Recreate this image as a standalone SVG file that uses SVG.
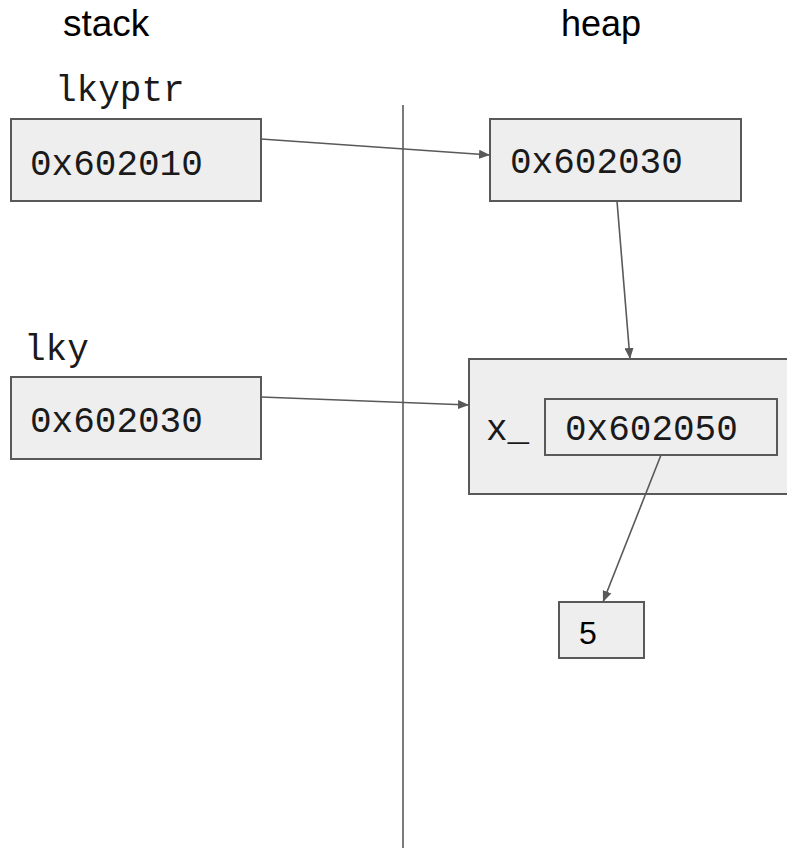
<svg xmlns="http://www.w3.org/2000/svg" width="787" height="848" viewBox="0 0 787 848">
<defs>
<style>
.box{fill:#eeeeee;stroke:#595959;stroke-width:2}
.mono{font-family:"Liberation Mono","Courier New",monospace;font-size:36px;fill:#1a1a1a}
.sans{font-family:"Liberation Sans",Arial,sans-serif;font-size:36px;fill:#000}
.conn{stroke:#595959;stroke-width:1.6;fill:none;marker-end:url(#arr)}
</style>
<marker id="arr" markerWidth="11" markerHeight="9" refX="11" refY="4.5" orient="auto" markerUnits="userSpaceOnUse">
<path d="M0,0 L11,4.5 L0,9 z" fill="#595959"/>
</marker>
</defs>
<rect width="787" height="848" fill="#fff"/>
<g id="headers">
<text class="sans" x="63" y="36" style="font-size:37px">stack</text>
<text class="sans" x="561" y="36">heap</text>
</g>
<g id="divider">
<line x1="403" y1="105" x2="403" y2="848" stroke="#595959" stroke-width="1.6"/>
</g>
<g id="lkyptr">
<text class="mono" x="55" y="101">lkyptr</text>
<rect class="box" x="11" y="119" width="250" height="82"/>
<text class="mono" x="30" y="175">0x602010</text>
</g>
<g id="lky">
<text class="mono" x="24" y="360">lky</text>
<rect class="box" x="11" y="377" width="250" height="82"/>
<text class="mono" x="30" y="432">0x602030</text>
</g>
<g id="heap1">
<rect class="box" x="490" y="119" width="251" height="82"/>
<text class="mono" x="510" y="173">0x602030</text>
</g>
<g id="heap2">
<rect class="box" x="469" y="359" width="330" height="135"/>
<text class="mono" x="486" y="440">x_</text>
<rect class="box" x="545" y="399" width="232" height="56"/>
<text class="mono" x="565" y="440">0x602050</text>
</g>
<g id="five">
<rect class="box" x="559" y="602" width="85" height="56"/>
<text class="sans" x="579" y="644" style="font-size:32px">5</text>
</g>
<g id="connectors">
<line class="conn" x1="261" y1="139" x2="490" y2="155"/>
<line class="conn" x1="617" y1="201" x2="630" y2="359"/>
<line class="conn" x1="261" y1="397" x2="469" y2="405"/>
<line class="conn" x1="661" y1="455" x2="603" y2="602"/>
</g>
</svg>
